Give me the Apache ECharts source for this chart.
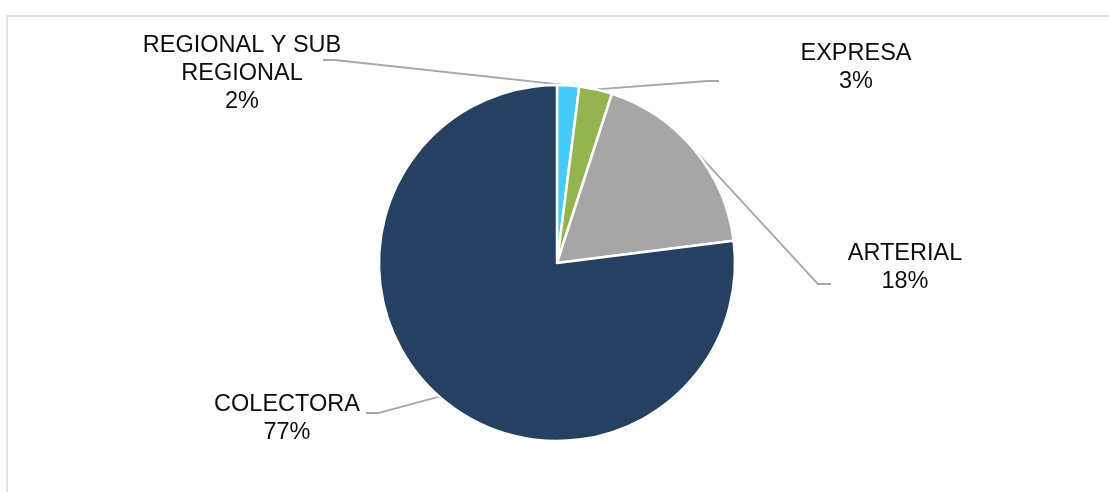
<!DOCTYPE html>
<html>
<head>
<meta charset="utf-8">
<script src="https://cdn.jsdelivr.net/npm/echarts@6/dist/echarts.min.js"></script>
<style>
  html, body { margin: 0; padding: 0; background: #fff; }
  #pie1 { width: 1109px; height: 492px; }
</style>
</head>
<body>
<div id="pie1"></div>
<script>
var categories = ['REGIONAL Y SUB\nREGIONAL', 'EXPRESA', 'ARTERIAL', 'COLECTORA'];
var values = [2, 3, 18, 77];
var colors = ['#45cbfa', '#93b44f', '#a6a6a6', '#264061'];

// label placement (center of text block) and leader line bend/end points
var labelPos = [
  { x: 242, y: 74, bend: [335, 60], end: [323, 60] },
  { x: 856, y: 68, bend: [708, 81], end: [719, 81] },
  { x: 905, y: 268, bend: [818, 284], end: [831, 284] },
  { x: 287, y: 419, bend: [378, 413], end: [366, 413] }
];

var pieData = [];
for (var i = 0; i < categories.length; i++) {
  pieData.push({
    name: categories[i],
    value: values[i],
    itemStyle: { color: colors[i] }
  });
}

var myChart1 = echarts.init(document.getElementById('pie1'));
var option1 = {
  backgroundColor: '#fff',
  animation: false,
  graphic: [{
    type: 'rect',
    shape: { x: 7, y: 16, width: 1200, height: 600 },
    style: { fill: 'none', stroke: '#d9d9d9', lineWidth: 1.5 },
    silent: true
  }],
  series: [{
    type: 'pie',
    center: [557, 263],
    radius: 178,
    startAngle: 90,
    clockwise: true,
    percentPrecision: 0,
    data: pieData,
    itemStyle: {
      borderColor: '#fff',
      borderWidth: 2.5
    },
    emphasis: { disabled: true },
    label: {
      show: true,
      formatter: '{b}\n{d}%',
      color: '#0d0d0d',
      fontFamily: 'Liberation Sans, Arial, sans-serif',
      fontSize: 23.5,
      lineHeight: 28,
      align: 'center'
    },
    labelLine: {
      show: true,
      lineStyle: {
        color: '#a6a6a6',
        width: 1.8
      }
    },
    labelLayout: function (params) {
      var p = labelPos[params.dataIndex];
      var start = params.labelLinePoints ? params.labelLinePoints[0] : p.bend;
      return {
        x: p.x,
        y: p.y,
        align: 'center',
        verticalAlign: 'middle',
        labelLinePoints: [start, p.bend, p.end]
      };
    }
  }]
};
myChart1.setOption(option1);

window.addEventListener('resize', function () {
  myChart1.resize();
});
</script>
</body>
</html>
